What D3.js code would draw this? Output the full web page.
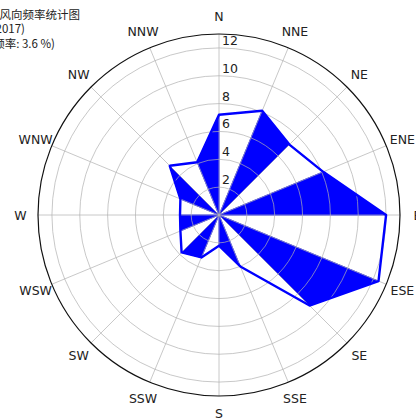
<!DOCTYPE html>
<html><head><meta charset="utf-8">
<script src="https://cdn.jsdelivr.net/npm/d3@7"></script>
<style>body{margin:0;background:#fff}svg{display:block}</style>
</head><body>
<script>
const directions = ["N","NNE","NE","ENE","E","ESE","SE","SSE","S","SSW","SW","WSW","W","WNW","NW","NNW"];
const frequencies = [7.2, 8.1, 7.15, 8.1, 12.0, 12.4, 9.2, 4.0, 2.2, 3.3, 3.8, 3.0, 2.8, 3.0, 5.0, 4.1];
const radialTicks = [2, 4, 6, 8, 10, 12];
const radialMax = 13;
const titleLines = ["风向频率统计图", "(2008-2017)", "(静风频率: 3.6 %)"];

const W = 416, H = 420, cx = 219, cy = 215, R = 181;
const svg = d3.select("body").append("svg").attr("width", W).attr("height", H);

const angle = d3.scalePoint().domain(directions).range([0, 2 * Math.PI * 15 / 16]);
const r = d3.scaleLinear().domain([0, radialMax]).range([0, R]);

const g = svg.append("g").attr("transform", `translate(${cx},${cy})`);

const pts = directions.map((d, i) => ({ d, v: frequencies[i] }));
const radial = d3.lineRadial().angle(p => p.a).radius(p => p.r).curve(d3.curveLinearClosed);

// filled sectors (alternating)
const tri = [];
for (let i = 1; i < 16; i += 2) {
  const j = (i + 1) % 16;
  tri.push([
    { a: 0, r: 0 },
    { a: angle(directions[i]), r: r(frequencies[i]) },
    { a: angle(directions[j]), r: r(frequencies[j]) }
  ]);
}
g.selectAll("path.fill").data(tri).join("path").attr("class", "fill")
  .attr("d", radial).attr("fill", "#0000ff").attr("stroke", "#0000ff").attr("stroke-width", 1);

// grid
const grid = g.append("g").attr("stroke", "#b0b0b0").attr("stroke-opacity", 0.7).attr("fill", "none").attr("stroke-width", 1);
grid.selectAll("circle").data(radialTicks).join("circle").attr("r", d => r(d));
grid.selectAll("line").data(directions).join("line")
  .attr("x1", 0).attr("y1", 0)
  .attr("x2", d => Math.sin(angle(d)) * R)
  .attr("y2", d => -Math.cos(angle(d)) * R);

// outline
g.append("path").datum(pts.map(p => ({ a: angle(p.d), r: r(p.v) })))
  .attr("d", radial).attr("fill", "none").attr("stroke", "#0000ff")
  .attr("stroke-width", 2.4).attr("stroke-linejoin", "round");

// outer spine
g.append("circle").attr("r", R).attr("fill", "none").attr("stroke", "#111").attr("stroke-width", 1.2);

// radial tick labels
g.selectAll("text.rt").data(radialTicks).join("text").attr("class", "rt")
  .attr("x", 3).attr("y", d => -r(d) - 3)
  .attr("font-family", "DejaVu Sans").attr("font-size", 12.5).attr("fill", "#222")
  .text(d => d);

// direction labels
const LR = R + 17.5;
g.selectAll("text.dir").data(directions).join("text").attr("class", "dir")
  .attr("x", d => Math.sin(angle(d)) * LR)
  .attr("y", d => -Math.cos(angle(d)) * LR)
  .attr("text-anchor", "middle").attr("dominant-baseline", "central")
  .attr("font-family", "DejaVu Sans").attr("font-size", 12.5).attr("fill", "#222")
  .text(d => d);

// title (clipped at left, as in the reference)
const titleEnds = [80, 25, 55];
const titleY = [14, 28, 43];
svg.selectAll("text.title").data(titleLines).join("text").attr("class", "title")
  .attr("x", (d, i) => titleEnds[i]).attr("y", (d, i) => titleY[i])
  .attr("text-anchor", "end").attr("dominant-baseline", "central")
  .attr("font-family", "Noto Sans CJK SC").attr("font-size", 11.5).attr("fill", "#222")
  .text(d => d);
</script>
</body></html>
